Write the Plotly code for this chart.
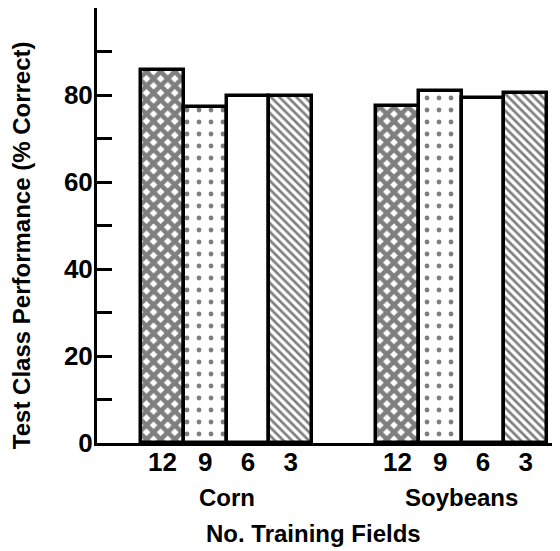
import plotly.graph_objects as go

# ---- data ----
crops = ["Corn", "Soybeans"]
fields = ["12", "9", "6", "3"]
corn_pct = [85.7, 77.2, 79.8, 79.8]
soy_pct = [77.5, 80.9, 79.3, 80.5]
y_ticks = [0, 20, 40, 60, 80]
y_minor = [10, 30, 50, 70, 90]

group_step = 5.5  # spacing between crop groups in bar widths

patterns = [
    dict(shape="x", size=10, solidity=0.7, fgcolor="black", bgcolor="white"),
    dict(shape=".", size=12, solidity=0.13, fgcolor="black", bgcolor="white"),
    dict(shape="", bgcolor="white"),
    dict(shape="\\", size=6, solidity=0.45, fgcolor="black", bgcolor="white"),
]

FONT = "Liberation Sans"

fig = go.Figure()
vals_by_crop = [corn_pct, soy_pct]
tickvals, ticktext = [], []
for fi, f in enumerate(fields):
    xs = [gi * group_step + fi for gi in range(len(crops))]
    ys = [vals_by_crop[gi][fi] for gi in range(len(crops))]
    tickvals += xs
    ticktext += [f] * len(xs)
    fig.add_trace(go.Bar(
        x=xs, y=ys, width=1.0, name=f,
        marker=dict(color="white", line=dict(color="black", width=3.5),
                    pattern=patterns[fi]),
        showlegend=False,
    ))

for gi, c in enumerate(crops):
    fig.add_annotation(x=gi * group_step + (len(fields) - 1) / 2, y=-0.126,
                       xref="x", yref="paper", text=c, showarrow=False,
                       font=dict(family=FONT, size=24, color="black", weight="bold"),
                       yanchor="middle")

fig.add_annotation(x=0.467, y=-0.207, xref="paper", yref="paper",
                   text="No. Training Fields", showarrow=False,
                   font=dict(family=FONT, size=24, color="black", weight="bold"),
                   yanchor="middle")

fig.add_annotation(x=-0.164, y=0.455, xref="paper", yref="paper",
                   text="Test Class Performance (% Correct)", showarrow=False,
                   textangle=-90,
                   font=dict(family=FONT, size=24, color="black", weight="bold"),
                   xanchor="center", yanchor="middle")

# page body has an 8px default margin, so the figure is offset by 8px
fig.update_layout(
    width=552, height=543,
    margin=dict(l=89, r=0, t=0, b=108, autoexpand=False),
    paper_bgcolor="white", plot_bgcolor="white",
    bargap=0, barmode="overlay",
    font=dict(family=FONT, color="black"),
)
fig.update_xaxes(
    range=[-1.53, 9.3], tickvals=tickvals, ticktext=ticktext,
    showline=True, linecolor="black", linewidth=3, showgrid=False,
    zeroline=False, ticks="", ticklabelstandoff=-6, automargin=False,
    tickfont=dict(family=FONT, size=26, color="black", weight="bold"),
)
fig.update_yaxes(
    range=[0, 100], tickvals=y_ticks, ticktext=[str(v) for v in y_ticks],
    showline=True, linecolor="black", linewidth=3, showgrid=False,
    zeroline=False, ticks="inside", ticklen=15, tickwidth=3, tickcolor="black",
    ticklabelstandoff=-4, automargin=False,
    tickfont=dict(family=FONT, size=26, color="black", weight="bold"),
    minor=dict(tickvals=y_minor, ticks="inside", ticklen=15, tickwidth=3,
               tickcolor="black", showgrid=False),
)

fig.write_html("out.html")
